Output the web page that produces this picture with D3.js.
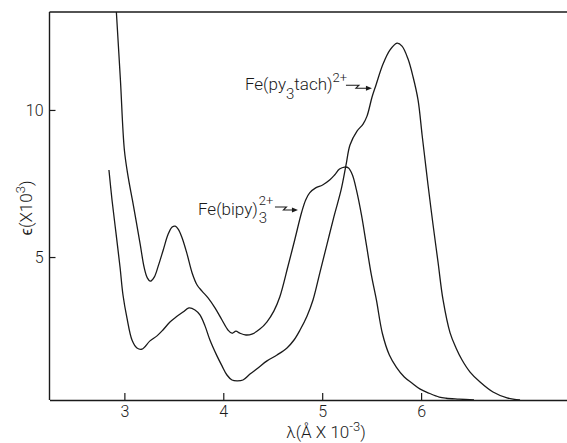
<!DOCTYPE html>
<html><head><meta charset="utf-8">
<script src="https://cdn.jsdelivr.net/npm/d3@7"></script>
<style>body{margin:0;background:#fff}</style>
</head><body><svg id="c" width="567" height="443"></svg>
<script>
// ---- data (wavelength in Å×10^-3, epsilon in ×10^3) ----
const xTickValues = [3, 4, 5, 6];
const yTickValues = [5, 10];

const bipyLambda = [2.919,2.960,3.000,3.040,3.081,3.121,3.161,3.201,3.232,3.262,3.302,3.342,3.393,3.443,3.483,3.514,3.544,3.584,3.634,3.685,3.735,3.785,3.846,3.916,3.987,4.047,4.088,4.128,4.168,4.229,4.289,4.370,4.440,4.511,4.571,4.652,4.722,4.793,4.833,4.873,4.934,5.004,5.075,5.125,5.175,5.226,5.266,5.306,5.346,5.397,5.447,5.497,5.548,5.608,5.679,5.749,5.830,5.910,5.991,6.082,6.183,6.253,6.384,6.535];
const bipyEps = [13.33,11.02,8.64,7.69,6.94,6.19,5.41,4.63,4.29,4.18,4.32,4.69,5.24,5.78,6.02,6.05,5.95,5.65,5.10,4.46,4.05,3.84,3.61,3.27,2.86,2.52,2.41,2.48,2.41,2.35,2.38,2.55,2.79,3.16,3.64,4.66,5.58,6.53,6.94,7.18,7.35,7.45,7.62,7.79,7.99,8.06,8.03,7.79,7.28,6.43,5.41,4.39,3.54,2.41,1.67,1.26,0.92,0.71,0.51,0.37,0.24,0.20,0.17,0.14];

const tachLambda = [2.844,2.875,2.915,2.956,2.986,3.026,3.077,3.127,3.178,3.259,3.330,3.390,3.461,3.522,3.593,3.653,3.714,3.764,3.815,3.865,3.936,3.987,4.037,4.088,4.139,4.199,4.270,4.351,4.442,4.543,4.644,4.715,4.776,4.846,4.907,4.978,5.049,5.120,5.191,5.241,5.281,5.352,5.413,5.453,5.504,5.544,5.615,5.686,5.757,5.807,5.868,5.919,5.969,6.010,6.040,6.070,6.121,6.171,6.222,6.293,6.353,6.414,6.495,6.596,6.727,6.869,7.000];
const tachEps = [7.96,6.94,5.82,4.66,3.71,2.93,2.18,1.91,1.87,2.15,2.32,2.52,2.79,2.96,3.13,3.27,3.20,3.03,2.66,2.18,1.64,1.30,0.99,0.82,0.79,0.82,1.02,1.23,1.47,1.67,1.91,2.18,2.52,2.99,3.54,4.49,5.44,6.39,7.28,8.13,8.81,9.28,9.52,9.79,10.44,10.85,11.56,12.04,12.27,12.17,11.73,11.12,10.34,9.15,8.30,7.45,6.09,4.83,3.54,2.42,1.91,1.50,1.09,0.75,0.41,0.21,0.14];

(function () {
// ---- scales ----
const svg = d3.select("#c");
const pl = 49.5, pr = 567, pt = 12, pb = 400;
const x = d3.scaleLinear().domain([2.243, 7.475]).range([pl, pr]);
const y = d3.scaleLinear().domain([0.14, 13.33]).range([pb, pt]);
const FONT = "Roboto, 'Liberation Sans', sans-serif";
const ink = "#1a1a1a";

svg.append("defs").append("clipPath").attr("id", "plot")
  .append("rect").attr("x", pl).attr("y", pt).attr("width", pr - pl).attr("height", pb - pt);

// frame: top line
svg.append("line").attr("x1", pl).attr("x2", pr).attr("y1", pt).attr("y2", pt)
  .attr("stroke", ink).attr("stroke-width", 1.4);

// axes
const xAxis = d3.axisBottom(x).tickValues(xTickValues).tickFormat(d3.format("d"))
  .tickSizeInner(-7).tickSizeOuter(0).tickPadding(6);
const gx = svg.append("g").attr("transform", `translate(0,${pb})`).call(xAxis);
const yAxis = d3.axisLeft(y).tickValues(yTickValues).tickFormat(d3.format("d"))
  .tickSizeInner(-6).tickSizeOuter(0).tickPadding(6);
const gy = svg.append("g").attr("transform", `translate(${pl},0)`).call(yAxis);
[gx, gy].forEach(g => {
  g.select(".domain").attr("stroke", ink).attr("stroke-width", 1.4);
  g.selectAll(".tick line").attr("stroke", ink).attr("stroke-width", 1.2);
  g.selectAll(".tick text").attr("fill", ink).style("font-family", FONT)
    .style("font-size", "16px").style("font-weight", 300);
});
gy.select(".domain").attr("d", `M0,${pb}V${pt}`);

// curves
const line = d3.line().x(d => x(d[0])).y(d => y(d[1])).curve(d3.curveCatmullRom.alpha(0.5));
const series = [d3.zip(bipyLambda, bipyEps), d3.zip(tachLambda, tachEps)];
svg.append("g").attr("clip-path", "url(#plot)").selectAll("path").data(series).join("path")
  .attr("d", line).attr("fill", "none").attr("stroke", ink).attr("stroke-width", 1.3)
  .attr("stroke-linejoin", "round");

function arrow(tipX, tipY, len) {
  const p = `M${tipX - len},${tipY - 3} h${len * 0.5} l-3,3 H${tipX - 4}`;
  svg.append("path").attr("d", p).attr("fill", "none").attr("stroke", ink).attr("stroke-width", 1.1);
  svg.append("path").attr("d", `M${tipX},${tipY} l-6,-2.5 v5 z`).attr("fill", ink);
}

// Fe(bipy)3 2+
{
  const tipX = x(4.755), tipY = y(6.6);
  arrow(tipX, tipY, 23);
  const bx = tipX - 100, by = tipY + 5;
  const t = svg.append("text").attr("x", bx).attr("y", by).attr("fill", ink)
    .style("font-family", FONT).style("font-size", "17px").style("font-weight", 300).text("Fe(bipy)");
  const w = t.node().getComputedTextLength();
  svg.append("text").attr("x", bx + w + 1).attr("y", by - 10).attr("fill", ink)
    .style("font-family", FONT).style("font-size", "13px").style("font-weight", 300).text("2+");
  svg.append("text").attr("x", bx + w + 1).attr("y", by + 8).attr("fill", ink)
    .style("font-family", FONT).style("font-size", "15px").style("font-weight", 300).text("3");
}
// Fe(py3tach) 2+
{
  const tipX = x(5.503), tipY = y(10.74);
  arrow(tipX, tipY, 26);
  const t = svg.append("text").attr("x", tipX - 127).attr("y", tipY + 2).attr("fill", ink)
    .style("font-family", FONT).style("font-size", "17px").style("font-weight", 300);
  t.append("tspan").text("Fe(py");
  t.append("tspan").attr("dy", 9).style("font-size", "15px").text("3");
  t.append("tspan").attr("dy", -9).text("tach)");
  t.append("tspan").attr("dy", -8).style("font-size", "13px").text("2+");
}

// axis titles
{
  const t = svg.append("text").attr("text-anchor", "middle").attr("fill", ink)
    .attr("transform", `translate(32,${(pt + pb) / 2 + 2}) rotate(-90)`)
    .style("font-family", FONT).style("font-size", "17px").style("font-weight", 300);
  t.append("tspan").text("ϵ(X10");
  t.append("tspan").attr("dy", -7).style("font-size", "13px").text("3");
  t.append("tspan").attr("dy", 7).text(")");
}
{
  const t = svg.append("text").attr("text-anchor", "middle").attr("fill", ink)
    .attr("x", 326).attr("y", 438)
    .style("font-family", FONT).style("font-size", "17px").style("font-weight", 300);
  t.append("tspan").text("λ(Å X 10");
  t.append("tspan").attr("dy", -7).style("font-size", "13px").text("-3");
  t.append("tspan").attr("dy", 7).text(")");
}
})();
</script></body></html>
